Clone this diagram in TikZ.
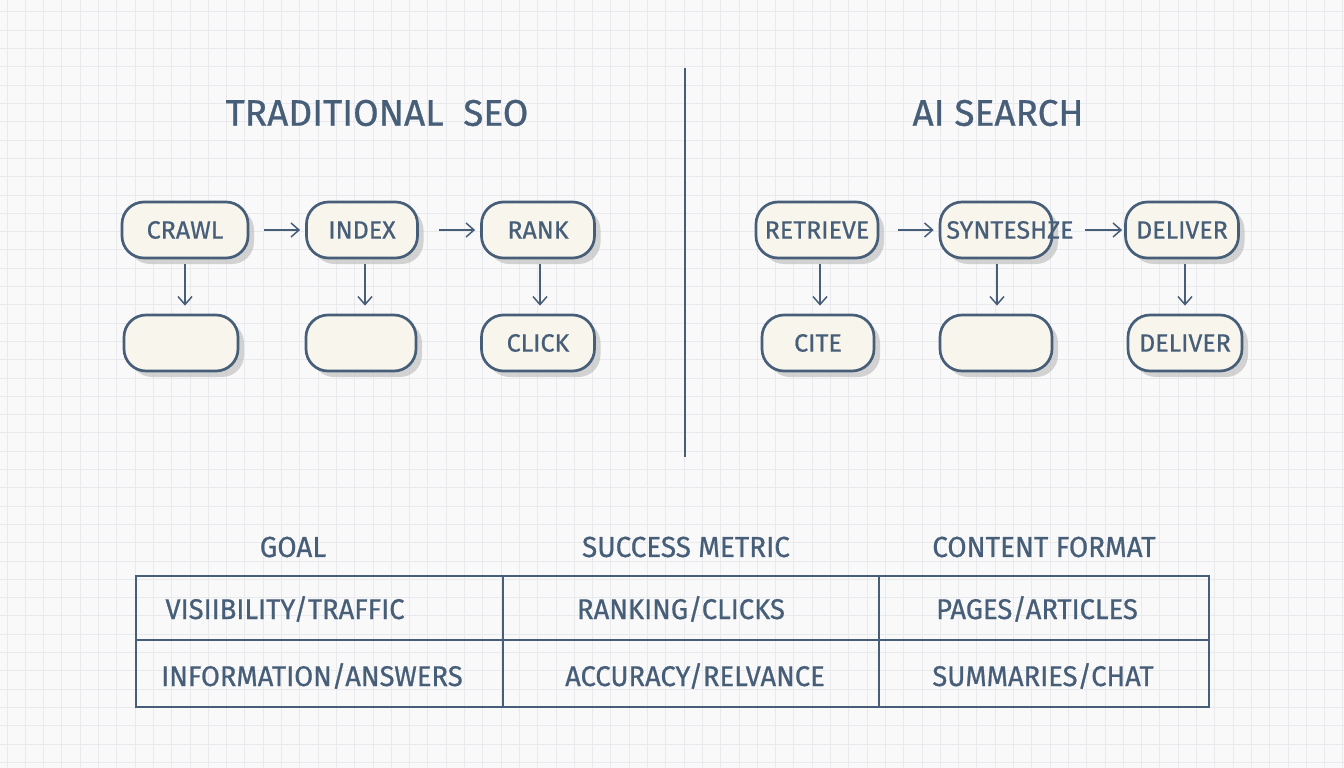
\documentclass[tikz,border=0pt]{standalone}
\usepackage{fontspec}
\setmainfont{Fira Sans}[FakeBold=0.7]
\newfontfamily\narrowfont{Fira Sans}[FakeBold=0.7, FakeStretch=0.96]
\usetikzlibrary{arrows.meta}
\usetikzlibrary{shadows}
\definecolor{slate}{RGB}{71,94,120}
\definecolor{cream}{RGB}{248,245,237}
\definecolor{paper}{RGB}{249,249,250}
\definecolor{gridline}{RGB}{232,234,237}
\tikzset{
  stage/.style={draw=slate, line width=2.7pt, fill=cream, rounded corners=22pt,
    minimum width=112pt, minimum height=56pt, text=slate,
    font=\fontsize{25}{29}\selectfont,
    drop shadow={shadow xshift=6pt, shadow yshift=-6pt, fill=black!28, opacity=.6}},
  flow/.style={slate, line width=1.5pt, -{Straight Barb[length=8pt,width=14pt]}, shorten >=5pt},
  title/.style={text=slate, font=\fontsize{37}{41}\selectfont},
  head/.style={text=slate, font=\narrowfont\fontsize{29}{33}\selectfont},
  cell/.style={text=slate, font=\narrowfont\fontsize{28.5}{32}\selectfont},
}

\begin{document}
\begin{tikzpicture}[x=1pt, y=-1pt]
  \useasboundingbox (0,0) rectangle (1344,768);
  \fill[paper] (0,0) rectangle (1344,768);
  % background grid
  \foreach \gx in {7,25.3,...,1344}
    \draw[gridline, line width=1pt] (\gx,0) -- (\gx,768);
  \foreach \gy in {12,30.3,...,768}
    \draw[gridline, line width=1pt] (0,\gy) -- (1344,\gy);

  % headings and divider
  \node[title] (tradtitle) at (377,113) {TRADITIONAL\ \ SEO};
  \node[title] (aititle) at (998,113) {AI SEARCH};
  \draw[slate, line width=1.2pt] (685,68) -- (685,457);

  % traditional SEO flow
  \node[stage, minimum width=126pt] (crawl) at (185,230) {CRAWL};
  \node[stage, minimum width=111pt] (index) at (362,230) {INDEX};
  \node[stage, minimum width=113pt] (rank) at (538,230) {RANK};
  \node[stage, minimum width=114pt] (crawlout) at (181,343) {};
  \node[stage, minimum width=110pt] (indexout) at (361,343) {};
  \node[stage, minimum width=113pt] (click) at (538,343) {CLICK};

  \draw[flow, shorten <=15pt] (crawl.east) -- (index.west);
  \draw[flow, shorten <=20pt] (index.east) -- (rank.west);
  \draw[flow, shorten <=5pt, shorten >=8pt] (crawl.south) -- (crawl.south |- crawlout.north);
  \draw[flow, shorten <=5pt, shorten >=8pt] ([xshift=3pt]index.south) -- ([xshift=3pt]index.south |- indexout.north);
  \draw[flow, shorten <=5pt, shorten >=8pt] ([xshift=2pt]rank.south) -- ([xshift=2pt]rank.south |- click.north);

  % AI search flow
  \node[stage, minimum width=122pt] (retrieve) at (817,230) {RETRIEVE};
  \node[stage] (synth) at (996,230) {};
  \node[text=slate, font=\fontsize{25}{29}\selectfont] (synthtext) at ([xshift=14pt]synth.center) {SYNTESHZE};
  \node[stage, minimum width=113pt] (deliver) at (1182,230) {DELIVER};
  \node[stage] (cite) at (818,343) {CITE};
  \node[stage] (synthout) at (996,343) {};
  \node[stage, minimum width=114pt] (deliverout) at (1185,343) {DELIVER};

  \draw[flow, shorten <=19pt] (retrieve.east) -- (synth.west);
  \draw[flow, shorten <=8pt, shorten >=2pt] (synthtext.east) -- (deliver.west);
  \draw[flow, shorten <=5pt, shorten >=8pt] ([xshift=3pt]retrieve.south) -- ([xshift=3pt]retrieve.south |- cite.north);
  \draw[flow, shorten <=5pt, shorten >=8pt] ([xshift=1pt]synth.south) -- ([xshift=1pt]synth.south |- synthout.north);
  \draw[flow, shorten <=5pt, shorten >=8pt] ([xshift=3pt]deliver.south) -- ([xshift=3pt]deliver.south |- deliverout.north);

  % comparison table
  \node[head] (goal) at (293,547) {GOAL};
  \node[head] (metric) at (686,547) {SUCCESS METRIC};
  \node[head] (format) at (1044,547) {CONTENT FORMAT};
  \draw[slate, line width=1.5pt] (136,576) rectangle (1209,707);
  \draw[slate, line width=1.5pt] (136,640) -- (1209,640);
  \draw[slate, line width=1.5pt] (503,576) -- (503,707);
  \draw[slate, line width=1.5pt] (879,576) -- (879,707);

  \node[cell] (goalseo) at (285,609) {VISIIBILITY/TRAFFIC};
  \node[cell] (metricseo) at (681,609) {RANKING/CLICKS};
  \node[cell] (formatseo) at (1037,609) {PAGES/ARTICLES};
  \node[cell] (goalai) at (312,676) {INFORMATION/ANSWERS};
  \node[cell] (metricai) at (695,676) {ACCURACY/RELVANCE};
  \node[cell] (formatai) at (1043,676) {SUMMARIES/CHAT};
\end{tikzpicture}
\end{document}
